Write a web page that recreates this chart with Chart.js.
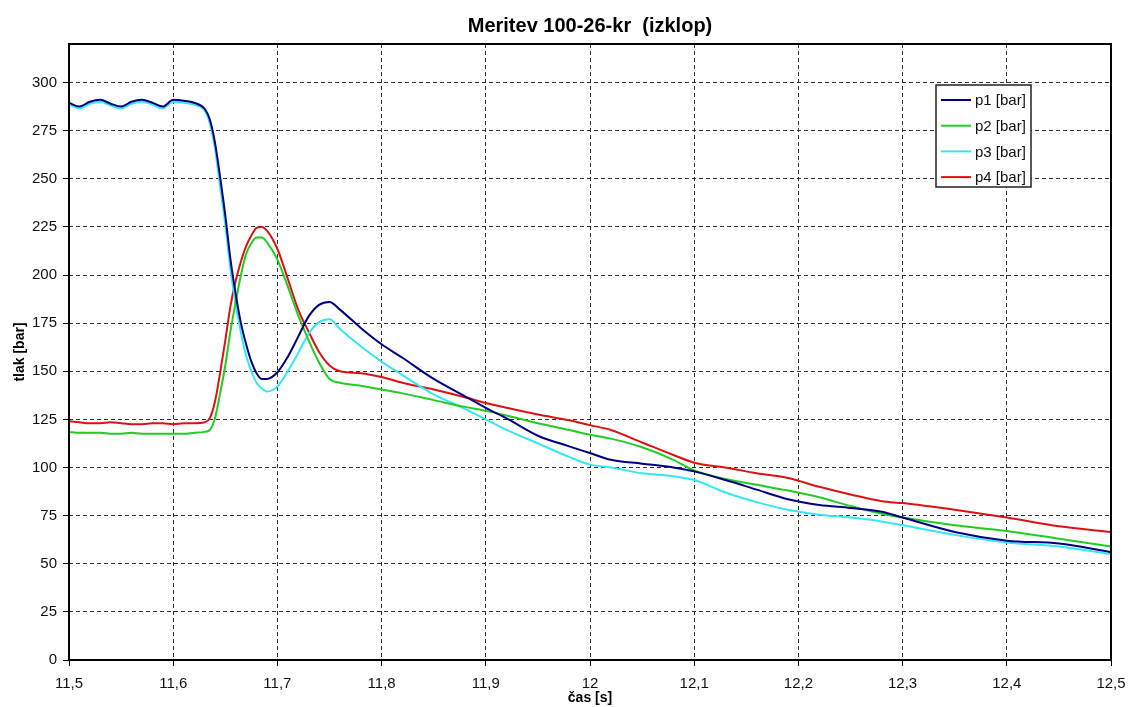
<!DOCTYPE html>
<html lang="sl">
<head>
<meta charset="UTF-8">
<title>Meritev 100-26-kr (izklop)</title>
<style>
  body { margin: 0; background: #fff; }
  #wrap { width: 1129px; height: 707px; }
</style>
</head>
<body>
<div id="wrap"><canvas id="myChart"></canvas></div>
<script src="https://cdn.jsdelivr.net/npm/chart.js"></script>
<script>
// cas [s]
const times = [
  11.50, 11.51, 11.52, 11.53, 11.54, 11.55, 11.56, 11.57, 11.58, 11.59,
  11.60, 11.61, 11.62, 11.63, 11.635, 11.64, 11.645, 11.65, 11.655, 11.66,
  11.665, 11.67, 11.675, 11.68, 11.685, 11.69, 11.70, 11.71, 11.72, 11.73,
  11.74, 11.75, 11.76, 11.78, 11.80, 11.82, 11.85, 11.88, 11.90, 11.92,
  11.95, 11.98, 12.00, 12.02, 12.05, 12.08, 12.10, 12.13, 12.16, 12.19,
  12.22, 12.25, 12.28, 12.30, 12.35, 12.40, 12.45, 12.50
];

// tlak [bar]
const p1 = [
  289.5, 287.5, 290, 291, 289, 287.5, 290, 291, 289.5, 287.5,
  291, 290.5, 289.5, 286.5, 281, 269, 251, 231, 208, 190,
  175, 164, 155, 149, 146, 146, 149.5, 157.5, 168, 178.5,
  184.5, 186, 182, 172.5, 164, 157, 146, 137, 131, 125.5,
  116.5, 111, 107.5, 104, 102, 100, 98, 93.5, 88.5, 83.5,
  80.5, 79, 77, 74, 66.5, 62, 60.5, 56
];
const p2 = [
  118.5, 118, 118, 118, 117.5, 117.5, 118, 117.5, 117.5, 117.5,
  117.5, 117.5, 118, 118.5, 119.5, 125.5, 138.5, 153, 171, 186,
  200, 211, 216.5, 219.5, 219.5, 217, 208, 194, 179, 166,
  154.5, 146, 144, 142.5, 140.5, 138.5, 135, 131.5, 129.5, 127,
  123, 119.5, 117, 115, 110.5, 104, 98.5, 94, 91, 88,
  84.5, 80, 76, 74, 70, 67, 63, 59
];
const p3 = [
  288.5, 286.5, 289, 290, 288, 286.5, 289, 290, 288.5, 286.5,
  290, 289.5, 288.5, 285.5, 279, 266, 246, 226, 203, 185,
  170, 158, 150, 144, 141, 139.5, 142, 150, 159.5, 169.5,
  175.5, 177, 172, 163, 155, 148, 138, 130.5, 125, 119.5,
  112.5, 105.5, 101.5, 100, 97, 95.5, 93.5, 87, 82, 78,
  75.5, 74, 72, 70, 65, 61, 59, 55
];
const p4 = [
  124, 123.5, 123, 123, 123.5, 123, 122.5, 122.5, 123, 123,
  122.5, 123, 123, 123.5, 125.5, 134, 149, 166, 184, 197,
  207, 215, 220.5, 224.5, 225, 223, 213.5, 198, 182, 170.5,
  160, 153, 150, 149, 147, 144, 140.5, 136.5, 133.5, 131,
  127.5, 124.5, 122, 119.5, 113, 106.5, 102.5, 100, 97, 94.5,
  90, 86, 82.5, 81.5, 78, 74, 69.5, 66.5
];

const seriesNames = ['p1 [bar]', 'p2 [bar]', 'p3 [bar]', 'p4 [bar]'];
const seriesColors = ['#000080', '#22cc22', '#33e8f0', '#dd1111'];
const seriesValues = [p1, p2, p3, p4];

function toPoints(vals) {
  return vals.map((v, i) => ({ x: times[i], y: v }));
}

const datasets = seriesValues.map((vals, i) => ({
  label: seriesNames[i],
  data: toPoints(vals),
  borderColor: seriesColors[i],
  backgroundColor: seriesColors[i],
  borderWidth: 2,
  pointRadius: 0,
  fill: false,
  cubicInterpolationMode: 'monotone'
}));

// naslov, okvir in legenda
const extras = {
  id: 'extras',
  afterDraw(chart) {
    const c = chart.ctx;
    const a = chart.chartArea;
    c.save();
    // okvir
    c.strokeStyle = '#000';
    c.lineWidth = 2;
    c.strokeRect(a.left, a.top, a.right - a.left, a.bottom - a.top);
    // naslov
    c.fillStyle = '#000';
    c.font = 'bold 20px "Liberation Sans", Arial, sans-serif';
    c.textAlign = 'center';
    c.textBaseline = 'middle';
    c.fillText('Meritev 100-26-kr  (izklop)', (a.left + a.right) / 2, 26);
    // legenda
    const bx = 936, by = 85, bw = 95, bh = 102;
    c.fillStyle = '#fff';
    c.fillRect(bx, by, bw, bh);
    c.strokeStyle = '#222';
    c.lineWidth = 1.5;
    c.strokeRect(bx, by, bw, bh);
    c.font = '15px "Liberation Sans", Arial, sans-serif';
    c.textAlign = 'left';
    chart.data.datasets.forEach((ds, i) => {
      const y = 100 + i * 25.7;
      c.strokeStyle = ds.borderColor;
      c.lineWidth = 2;
      c.beginPath();
      c.moveTo(941, y);
      c.lineTo(971, y);
      c.stroke();
      c.fillStyle = '#111';
      c.fillText(ds.label, 975, y + 1);
    });
    c.restore();
  }
};

const fmt = v => Number(v.toFixed(1)).toString().replace('.', ',');

const ctx = document.getElementById('myChart');
new Chart(ctx, {
  type: 'line',
  data: { datasets: datasets },
  options: {
    responsive: true,
    maintainAspectRatio: false,
    animation: false,
    layout: { padding: { top: 44, right: 18, left: 0, bottom: 0 } },
    plugins: {
      legend: { display: false },
      title: { display: false },
      tooltip: { enabled: false }
    },
    scales: {
      x: {
        type: 'linear',
        min: 11.5,
        max: 12.5,
        afterFit: s => { s.height = 47; s.paddingLeft = 0; s.paddingRight = 0; },
        ticks: {
          stepSize: 0.1,
          padding: 9,
          color: '#111',
          font: { size: 15, family: '"Liberation Sans", Arial, sans-serif' },
          callback: v => fmt(v),
          maxRotation: 0
        },
        grid: {
          color: '#333',
          lineWidth: 1,
          tickLength: 6,
          tickColor: '#000',
          tickBorderDash: []
        },
        border: { display: false, dash: [4, 3] },
        title: {
          display: true,
          text: 'čas [s]',
          color: '#000',
          font: { size: 14, weight: 'bold', family: '"Liberation Sans", Arial, sans-serif' },
          padding: { top: 0, bottom: 0 }
        }
      },
      y: {
        min: 0,
        max: 320,
        afterFit: s => { s.width = 69; s.paddingTop = 0; s.paddingBottom = 0; },
        ticks: {
          stepSize: 25,
          includeBounds: false,
          padding: 6,
          color: '#111',
          font: { size: 15, family: '"Liberation Sans", Arial, sans-serif' }
        },
        grid: {
          color: '#333',
          lineWidth: 1,
          tickLength: 6,
          tickColor: '#000',
          tickBorderDash: []
        },
        border: { display: false, dash: [4, 3] },
        title: {
          display: true,
          text: 'tlak [bar]',
          color: '#000',
          font: { size: 14, weight: 'bold', family: '"Liberation Sans", Arial, sans-serif' },
          padding: { top: 12, bottom: 0 }
        }
      }
    }
  },
  plugins: [extras]
});
</script>
</body>
</html>
